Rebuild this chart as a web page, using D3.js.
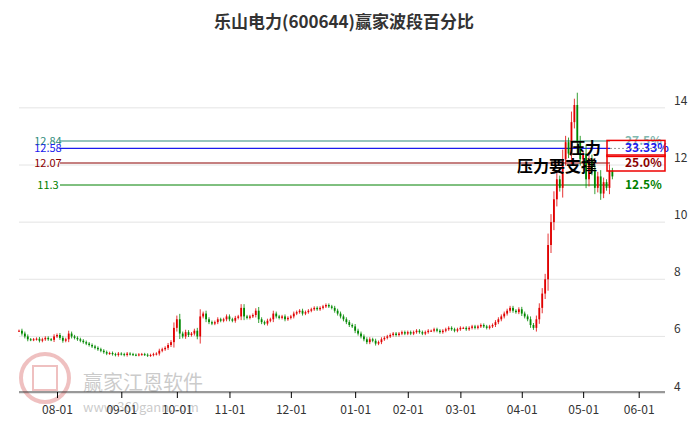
<!DOCTYPE html><html><head><meta charset="utf-8"><script src="https://cdn.jsdelivr.net/npm/d3@7"></script>
<style>body{margin:0;background:#fff}text{font-family:"Noto Sans CJK SC","Noto Sans",sans-serif}</style></head><body>
<svg id="c" width="689" height="427"></svg>
<script>
const closes=[6.2,6.1,6.0,5.9,5.88,5.9,5.92,5.85,5.9,5.95,5.9,5.88,6.0,
6.05,5.95,5.85,5.9,6.1,6.0,5.95,5.9,5.85,5.8,5.75,5.7,5.65,5.6,5.55,5.5,5.45,5.4,5.42,5.38,5.35,5.4,
5.38,5.35,5.4,5.38,5.36,5.35,5.37,5.38,5.36,5.33,5.35,5.38,5.4,5.5,5.55,5.6,5.7,5.8,6.3,
6.6,6.1,6.0,6.15,6.05,6.1,6.2,6.0,6.7,6.8,6.6,6.5,6.45,6.5,6.6,6.55,6.6,6.7,
6.6,6.55,6.65,6.7,7.0,6.7,6.65,6.7,6.75,6.9,6.6,6.5,6.45,6.55,6.6,6.8,6.7,6.65,6.7,6.6,6.65,
6.7,6.8,6.85,6.9,6.8,6.85,6.9,6.95,7.0,6.95,7.0,7.05,7.1,7.05,7.0,6.9,6.8,6.7,6.6,6.5,6.4,6.35,
6.2,6.1,6.0,5.9,5.8,5.9,5.85,5.75,5.8,5.9,5.95,6.0,6.05,6.1,6.05,6.1,6.15,6.1,6.15,
6.1,6.15,6.2,6.15,6.1,6.15,6.2,6.2,6.25,6.2,6.15,6.2,6.25,6.3,6.25,6.2,6.25,6.3,
6.3,6.25,6.3,6.35,6.3,6.35,6.4,6.35,6.3,6.35,6.4,6.5,6.6,6.7,6.8,6.9,7.0,6.9,6.85,6.95,6.8,
6.7,6.6,6.4,6.3,6.6,7.0,7.5,8.0,9.2,10.0,10.8,11.5,11.2,12.2,12.8,12.4,13.5,14.1,12.8,12.2,12.4,
11.5,12.2,11.8,11.2,11.6,11.0,11.4,11.2,11.8,11.6];
const levelValues=[12.84,12.58,12.07,11.3];
const levelLabels=["27.5%","33.33%","25.0%","12.5%"];
const levelColors=["#2e8b7a","#1a1aee","#8b0000","#008000"];
const yTicks=[4,6,8,10,12,14];
const xTickLabels=["08-01","09-01","10-01","11-01","12-01","01-01","02-01","03-01","04-01","05-01","06-01"];

const hol=new Set(["2024-09-16","2024-09-17","2024-10-01","2024-10-02","2024-10-03","2024-10-04","2024-10-07","2025-01-01","2025-01-28","2025-01-29","2025-01-30","2025-01-31","2025-02-03","2025-02-04","2025-04-04","2025-05-01","2025-05-02","2025-05-05","2025-06-02"]);
const fmt=d3.timeFormat("%Y-%m-%d"),mfmt=d3.timeFormat("%m-%d");
const dates=[];for(let d=new Date(2024,6,15);d<=new Date(2025,5,10);d=d3.timeDay.offset(d,1)){const w=d.getDay();if(w>0&&w<6&&!hol.has(fmt(d)))dates.push(new Date(d));}
// first trading day of each month -> tick index
const tickIdx=[];dates.forEach((d,i)=>{if(i>0&&d.getMonth()!==dates[i-1].getMonth())tickIdx.push(i);});
const svg=d3.select("#c");
const x=d3.scaleLinear().domain([0,tickIdx[0]]).range([19,57]);
const y=d3.scaleLinear().domain([11.3,12.84]).range([185,141]);
svg.append("text").attr("x",344).attr("y",28).attr("text-anchor","middle").attr("font-size",17).attr("font-weight","bold").attr("fill","#333").text("乐山电力(600644)赢家波段百分比");
svg.selectAll(".g").data(yTicks).join("line").attr("x1",19).attr("x2",665).attr("y1",d=>y(d)).attr("y2",d=>y(d)).attr("stroke","#e4e4e4");
svg.selectAll(".yt").data(yTicks).join("text").attr("x",674).attr("y",d=>y(d)-3).attr("font-size",12).attr("fill","#333").text(d=>d);
const wm=svg.append("g").attr("opacity",0.3);
wm.append("circle").attr("cx",45).attr("cy",378).attr("r",24).attr("fill","none").attr("stroke","#c33").attr("stroke-width",4);
wm.append("rect").attr("x",33).attr("y",366).attr("width",24).attr("height",24).attr("fill","none").attr("stroke","#c33").attr("stroke-width",2);
wm.append("text").attr("x",83).attr("y",390).attr("font-size",20).attr("fill","#555").text("赢家江恩软件");
wm.append("text").attr("x",83).attr("y",412).attr("font-size",13).attr("fill","#555").text("www.360gann.com");
const ax=svg.append("g").attr("transform","translate(0,392)").call(d3.axisBottom(x).tickValues(tickIdx.slice(0,xTickLabels.length)).tickFormat((d,i)=>xTickLabels[i]).tickSize(6));
ax.select(".domain").attr("d","M19,0H665").attr("stroke","#333");ax.selectAll("text").attr("font-size",12).attr("fill","#333").attr("dy","1.1em");
levelValues.forEach((v,i)=>{svg.append("line").attr("x1",60).attr("x2",610).attr("y1",y(v)).attr("y2",y(v)).attr("stroke",levelColors[i]).attr("stroke-width",i==1?1.3:1);
svg.append("text").attr("x",48).attr("y",y(v)+4).attr("text-anchor","middle").attr("font-size",11).attr("fill",levelColors[i]).text(v);
svg.append("text").attr("x",625).attr("y",y(v)+4).attr("font-size",12).attr("font-weight","bold").attr("fill",levelColors[i]).attr("opacity",i==0?0.6:1).text(levelLabels[i]);});
svg.append("line").attr("x1",610).attr("x2",665).attr("y1",y(12.58)).attr("y2",y(12.58)).attr("stroke","#999").attr("stroke-dasharray","2,2");
const bw=1.8,cg=svg.append("g");
closes.forEach((c,i)=>{const o=i?closes[i-1]:c;const up=c>=o;const col=up?"#e00000":"#008800";const cx=x(i);
const hi=Math.max(o,c)+(Math.abs(c-o)*0.3+0.04),lo=Math.min(o,c)-(Math.abs(c-o)*0.3+0.04);
cg.append("line").attr("x1",cx).attr("x2",cx).attr("y1",y(hi)).attr("y2",y(lo)).attr("stroke",col).attr("stroke-width",0.8);
cg.append("rect").attr("x",cx-bw/2).attr("width",bw).attr("y",y(Math.max(o,c))).attr("height",Math.max(1,Math.abs(y(o)-y(c)))).attr("fill",col);});
[12.58,12.07].forEach(v=>svg.append("rect").attr("x",607).attr("y",y(v)-8).attr("width",58).attr("height",16).attr("fill","none").attr("stroke","#e00").attr("stroke-width",1.5));
svg.append("text").attr("x",569).attr("y",y(12.58)+6).attr("font-size",16).attr("font-weight","bold").attr("fill","#000").text("压力");
svg.append("text").attr("x",517).attr("y",y(12.07)+9).attr("font-size",16).attr("font-weight","bold").attr("fill","#000").text("压力要支撑");
</script></body></html>
